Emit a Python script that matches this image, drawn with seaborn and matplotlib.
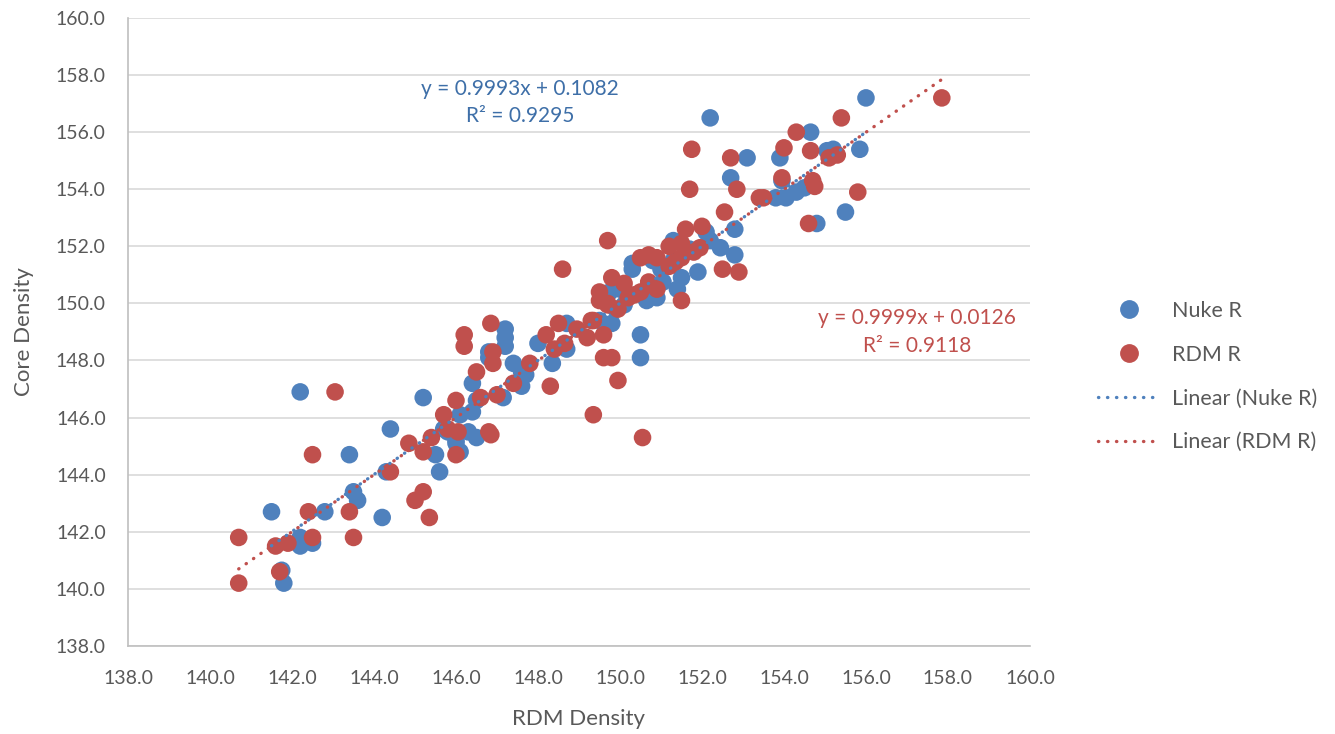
import numpy as np
import pandas as pd
import matplotlib
matplotlib.use("Agg")
import matplotlib.pyplot as plt
from matplotlib.lines import Line2D
import seaborn as sns

# ---- data ----
nuke_x = [141.5, 141.8, 141.75, 142.2, 142.2, 142.5, 142.8, 142.2, 143.4, 143.5,
          143.6, 144.2, 144.3, 144.4, 145.2, 145.5, 145.6, 145.7, 145.8, 146.0,
          146.1, 146.0, 146.1, 146.4, 146.3, 146.5, 146.5, 146.4, 147.15, 147.2,
          147.2, 147.2, 146.8, 146.8, 147.4, 147.6, 147.6, 148.0, 148.35, 148.7,
          148.7, 149.8, 149.75, 150.1, 150.3, 150.3, 150.65, 150.9, 151.0, 151.05,
          151.4, 151.3, 151.6, 151.9, 151.5, 150.5, 150.5, 152.1, 152.2, 152.45,
          152.8, 152.8, 152.2, 152.7, 153.1, 153.9, 153.95, 153.8, 154.05, 154.3,
          154.5, 154.65, 155.05, 155.2, 155.85, 156.0, 155.5, 154.8, 150.8, 149.5,
          150.0, 150.2, 149.6, 151.7, 151.3, 147.7, 149.9]
nuke_y = [142.7, 140.2, 140.65, 141.5, 141.8, 141.6, 142.7, 146.9, 144.7, 143.4,
          143.1, 142.5, 144.1, 145.6, 146.7, 144.7, 144.1, 145.6, 145.5, 145.2,
          144.8, 145.1, 146.1, 146.2, 145.5, 145.3, 146.6, 147.2, 146.7, 149.1,
          148.8, 148.5, 148.3, 148.1, 147.9, 147.6, 147.1, 148.6, 147.9, 149.3,
          148.4, 149.3, 150.4, 149.95, 151.4, 151.2, 150.1, 150.2, 151.2, 150.75,
          150.5, 152.2, 151.8, 151.1, 150.9, 148.9, 148.1, 152.5, 152.2, 151.95,
          151.7, 152.6, 156.5, 154.4, 155.1, 155.1, 154.3, 153.7, 153.7, 153.9,
          154.05, 156.0, 155.35, 155.4, 155.4, 157.2, 153.2, 152.8, 151.5, 149.4,
          150.5, 150.3, 150.2, 151.9, 151.5, 147.5, 149.8]

rdm_x = [140.7, 140.7, 141.6, 141.7, 141.9, 142.5, 142.4, 142.5, 143.05, 143.4,
         143.5, 144.4, 144.85, 145.0, 145.2, 145.35, 145.2, 145.4, 145.7, 145.8,
         146.05, 146.0, 146.0, 146.2, 146.2, 146.5, 146.6, 146.8, 146.85, 146.85,
         146.9, 146.9, 147.0, 147.4, 147.8, 148.2, 148.4, 148.3, 148.5, 148.65,
         148.6, 148.95, 149.2, 149.35, 149.35, 149.5, 149.5, 149.6, 149.6, 149.8,
         149.7, 149.95, 149.7, 149.8, 149.95, 150.1, 150.2, 150.5, 150.55, 150.5,
         150.7, 150.7, 150.9, 150.9, 151.2, 151.2, 151.35, 151.5, 151.5, 151.5,
         151.6, 151.75, 151.7, 151.8, 151.95, 152.0, 152.5, 152.9, 152.55, 152.7,
         152.85, 153.4, 153.5, 153.95, 154.0, 154.3, 154.65, 154.7, 154.75, 154.6,
         155.1, 155.3, 155.4, 155.8, 157.85, 149.3, 150.35, 149.7]
rdm_y = [140.2, 141.8, 141.5, 140.6, 141.6, 141.8, 142.7, 144.7, 146.9, 142.7,
         141.8, 144.1, 145.1, 143.1, 143.4, 142.5, 144.8, 145.3, 146.1, 145.6,
         145.5, 144.7, 146.6, 148.9, 148.5, 147.6, 146.7, 145.5, 145.4, 149.3,
         148.3, 147.9, 146.8, 147.2, 147.9, 148.9, 148.4, 147.1, 149.3, 148.6,
         151.2, 149.1, 148.8, 149.4, 146.1, 150.4, 150.1, 148.9, 148.1, 148.1,
         149.95, 149.8, 152.2, 150.9, 147.3, 150.7, 150.2, 150.4, 145.3, 151.6,
         151.7, 150.75, 151.6, 150.5, 152.0, 151.3, 151.45, 151.6, 152.1, 150.1,
         152.6, 155.4, 154.0, 151.8, 151.95, 152.7, 151.2, 151.1, 153.2, 155.1,
         154.0, 153.7, 153.7, 154.4, 155.45, 156.0, 155.35, 154.3, 154.1, 152.8,
         155.1, 155.2, 156.5, 153.9, 157.2, 149.4, 150.3, 150.0]

series_names = ["Nuke R", "RDM R"]
trend_slopes = [0.9993, 0.9999]
trend_intercepts = [0.1082, 0.0126]
r_squared = [0.9295, 0.9118]

x_ticks = np.arange(138, 161, 2)
y_ticks = np.arange(138, 161, 2)

BLUE = "#4F81BD"
RED = "#C0504D"
GRAY_TXT = "#595959"

df = pd.concat([
    pd.DataFrame({"RDM Density": nuke_x, "Core Density": nuke_y, "series": series_names[0]}),
    pd.DataFrame({"RDM Density": rdm_x, "Core Density": rdm_y, "series": series_names[1]}),
], ignore_index=True)

sns.set_style("white")
plt.rcParams["font.family"] = ["Lato", "DejaVu Sans"]

fig = plt.figure(figsize=(13.35, 7.34), dpi=100)
ax = fig.add_axes([0.0959, 0.120, 0.6756, 0.8555])

sns.scatterplot(data=df, x="RDM Density", y="Core Density", hue="series",
                palette={series_names[0]: BLUE, series_names[1]: RED},
                s=160, edgecolor="none", linewidth=0, ax=ax, legend=False, zorder=3)

dot_style = (0, (0.1, 2.6))
xs_all = [nuke_x, rdm_x]
colors = [BLUE, RED]
for xs, m, b, c in zip(xs_all, trend_slopes, trend_intercepts, colors):
    xx = np.array([min(xs), max(xs)])
    ax.plot(xx, m * xx + b, color=c, linestyle=dot_style, linewidth=2.4,
            dash_capstyle="round", zorder=4)

ax.set_xlim(138, 160)
ax.set_ylim(138, 160)
ax.set_xticks(x_ticks)
ax.set_yticks(y_ticks)
ax.set_xticklabels([f"{v:.1f}" for v in x_ticks])
ax.set_yticklabels([f"{v:.1f}" for v in y_ticks])
ax.tick_params(axis="both", length=0, labelsize=14, colors=GRAY_TXT)
ax.tick_params(axis="x", pad=17)
ax.tick_params(axis="y", pad=16)
ax.yaxis.grid(True, color="#D9D9D9", linewidth=1.2)
ax.xaxis.grid(False)
ax.set_axisbelow(True)
for side in ["top", "right"]:
    ax.spines[side].set_visible(False)
for side in ["left", "bottom"]:
    ax.spines[side].set_color("#BFBFBF")
    ax.spines[side].set_linewidth(1.2)

ax.set_xlabel("RDM Density", fontsize=16, color=GRAY_TXT, labelpad=16)
ax.set_ylabel("Core Density", fontsize=16, color=GRAY_TXT, labelpad=16)

ax.text(147.56, 157.05,
        f"y = {trend_slopes[0]:.4f}x + {trend_intercepts[0]:.4f}\nR² = {r_squared[0]:.4f}",
        ha="center", va="center", fontsize=15, color="#3E6FA8", linespacing=1.45)
ax.text(157.25, 149.0,
        f"y = {trend_slopes[1]:.4f}x + {trend_intercepts[1]:.4f}\nR² = {r_squared[1]:.4f}",
        ha="center", va="center", fontsize=15, color=RED, linespacing=1.45)

handles = [
    Line2D([], [], marker="o", linestyle="none", markersize=12.5, color=BLUE),
    Line2D([], [], marker="o", linestyle="none", markersize=12.5, color=RED),
    Line2D([], [], color=BLUE, linestyle=dot_style, linewidth=2.4, dash_capstyle="round"),
    Line2D([], [], color=RED, linestyle=dot_style, linewidth=2.4, dash_capstyle="round"),
]
labels = [series_names[0], series_names[1],
          f"Linear ({series_names[0]})", f"Linear ({series_names[1]})"]
leg = fig.legend(handles, labels, loc="center left", bbox_to_anchor=(0.808, 0.487),
                 frameon=False, fontsize=15.5, labelcolor=GRAY_TXT,
                 handlelength=2.9, handletextpad=0.55, labelspacing=1.1)

fig.savefig("out.png", dpi=100)
